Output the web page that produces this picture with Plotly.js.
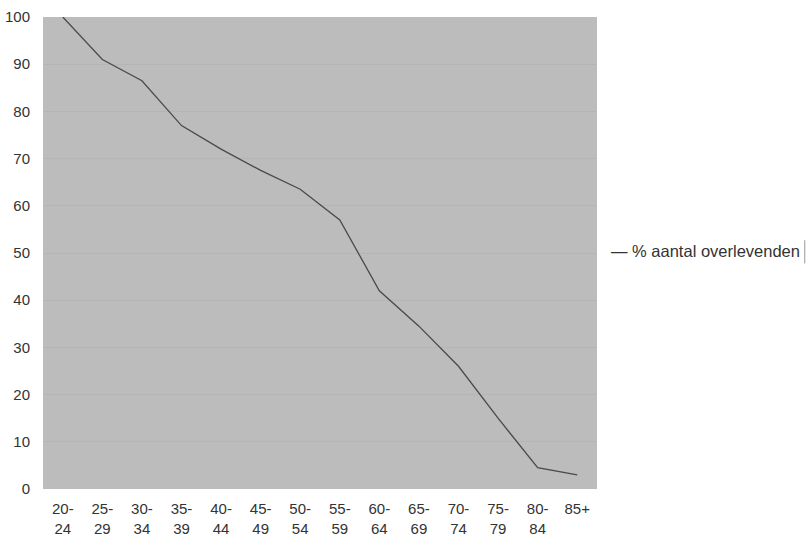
<!DOCTYPE html>
<html>
<head>
<meta charset="utf-8">
<script src="https://cdn.plot.ly/plotly-3.0.1.min.js"></script>
<style>html,body{margin:0;padding:0;background:#fff;}#chart{width:807px;height:539px;}</style>
</head>
<body>
<div id="chart"></div>
<script>
const ageGroups = ["20-<br>24","25-<br>29","30-<br>34","35-<br>39","40-<br>44","45-<br>49","50-<br>54","55-<br>59","60-<br>64","65-<br>69","70-<br>74","75-<br>79","80-<br>84","85+"];
const survivors = [100, 91, 86.5, 77, 72, 67.5, 63.5, 57, 42, 34.5, 26, 15, 4.5, 3];
const seriesName = "% aantal overlevenden";
const yTicks = [0,10,20,30,40,50,60,70,80,90,100];

const trace = {
  x: ageGroups.map((_, i) => i),
  y: survivors,
  type: "scatter",
  mode: "lines",
  name: seriesName,
  line: {color: "#4a4a4a", width: 1.3},
  showlegend: false
};

const layout = {
  width: 807, height: 539,
  margin: {l: 43, r: 210, t: 17, b: 50},
  paper_bgcolor: "#ffffff",
  plot_bgcolor: "#bcbcbc",
  font: {family: "Liberation Sans, Arial, sans-serif", size: 15, color: "#333333"},
  xaxis: {
    type: "linear",
    range: [-0.5, ageGroups.length - 0.5],
    tickmode: "array",
    tickvals: ageGroups.map((_, i) => i),
    ticktext: ageGroups,
    showgrid: false, zeroline: false, showline: false,
    ticks: "outside", ticklen: 6, tickcolor: "rgba(0,0,0,0)",
    tickfont: {size: 15, color: "#333"}
  },
  yaxis: {
    range: [0, 100],
    tickmode: "array",
    tickvals: yTicks,
    showgrid: true, gridcolor: "#b5b5b5", gridwidth: 1,
    zeroline: false, showline: false,
    ticks: "outside", ticklen: 9, tickcolor: "rgba(0,0,0,0)",
    tickfont: {size: 15, color: "#333"}
  },
  annotations: [{
    xref: "paper", yref: "paper",
    x: 1.022, y: 0.505,
    xanchor: "left", yanchor: "middle",
    text: "— " + seriesName,
    showarrow: false,
    font: {size: 16.5, color: "#333"}
  }],
  shapes: [{
    type: "line", xref: "paper", yref: "paper",
    x0: 1.375, x1: 1.375, y0: 0.478, y1: 0.527,
    line: {color: "#999", width: 1}
  }]
};

Plotly.newPlot("chart", [trace], layout, {displayModeBar: false, staticPlot: true});
</script>
</body>
</html>
